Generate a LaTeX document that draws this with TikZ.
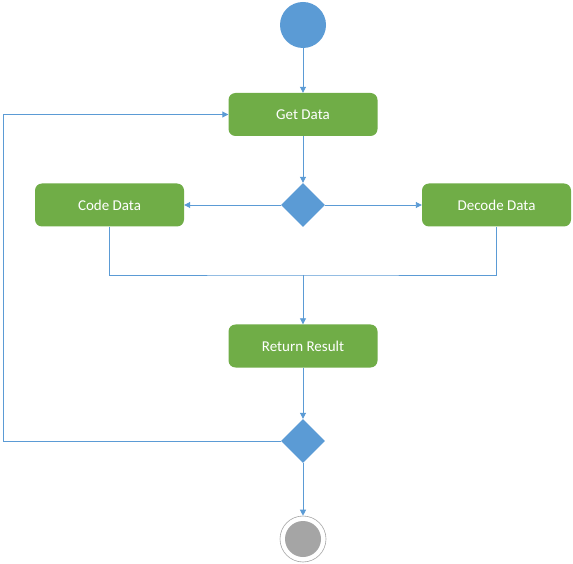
\documentclass[tikz,border=0pt]{standalone}
\usepackage{xcolor}
\usepackage{fontspec}
\setmainfont{Carlito}
\usepackage{tikz}
\usetikzlibrary{shapes.geometric,arrows.meta}

\begin{document}
\begin{tikzpicture}[x=1pt,y=1pt,
  actBox/.style={rectangle,rounded corners=7pt,fill=actColor,text=white,
    minimum width=149pt,minimum height=43pt,inner sep=0pt,
    font=\fontsize{15}{18}\selectfont},
  decBox/.style={diamond,fill=flowColor,minimum width=44pt,minimum height=44pt,inner sep=0pt},
  flow/.style={draw=flowColor,line width=0.9pt,-{Triangle[width=6pt,length=6pt]}},
  flowLine/.style={draw=flowColor,line width=0.9pt}]
\definecolor{fillColor}{RGB}{255,255,255}
\definecolor{actColor}{RGB}{112,173,71}
\definecolor{flowColor}{RGB}{91,155,213}
\definecolor{endColor}{RGB}{165,165,165}
\path[use as bounding box,fill=fillColor] (0,0) rectangle (573,563);

% start and end
\node[circle,fill=flowColor,minimum size=46pt,inner sep=0pt] (start) at (303,538) {};
\node[circle,draw=endColor,line width=0.6pt,fill=white,minimum size=46pt,inner sep=0pt,
  path picture={\fill[endColor] (path picture bounding box.center) circle (18);}] (finish) at (303,24) {};

% activities
\node[actBox] (getData) at (303,448.5) {Get Data};
\node[actBox] (codeData) at (109.5,358) {Code Data};
\node[actBox] (decodeData) at (496.5,358) {Decode Data};
\node[actBox] (returnResult) at (303,217) {Return Result};

% decisions
\node[decBox] (split) at (303,358) {};
\node[decBox] (check) at (303,122) {};

\coordinate (join) at (303,288);
\coordinate (loop) at (3,122);

\path[flow] (start) -- (getData);
\path[flow] (getData) -- (split);
\path[flow] (split) -- (codeData);
\path[flow] (split) -- (decodeData);
\path[flowLine] (codeData.south) |- (join) -| (decodeData.south);
\path[flow] (join) -- (returnResult);
\path[flow] (returnResult) -- (check);
\path[flow] (check) -- (finish);
\path[flow] (check.west) -- (loop) |- (getData.west);
\end{tikzpicture}
\end{document}
